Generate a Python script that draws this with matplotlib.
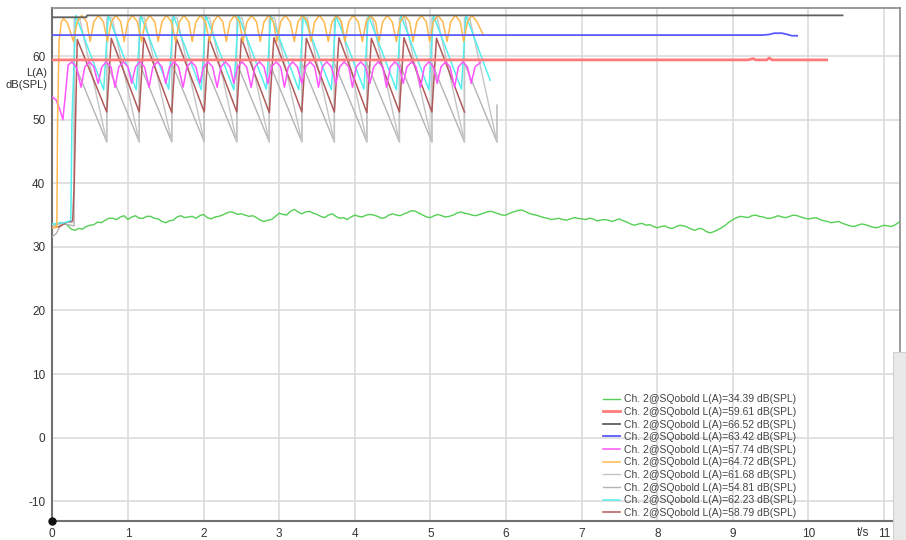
import numpy as np
import matplotlib
matplotlib.use("Agg")
import matplotlib.pyplot as plt
from matplotlib.patches import Rectangle

plt.rcParams['font.family'] = ['Liberation Sans', 'DejaVu Sans']
plt.rcParams['axes.unicode_minus'] = False

# ---------------- data (time in s, level in dB(SPL)) ----------------
labels = ["Ch. 2@SQobold L(A)=34.39 dB(SPL)",
          "Ch. 2@SQobold L(A)=59.61 dB(SPL)",
          "Ch. 2@SQobold L(A)=66.52 dB(SPL)",
          "Ch. 2@SQobold L(A)=63.42 dB(SPL)",
          "Ch. 2@SQobold L(A)=57.74 dB(SPL)",
          "Ch. 2@SQobold L(A)=64.72 dB(SPL)",
          "Ch. 2@SQobold L(A)=61.68 dB(SPL)",
          "Ch. 2@SQobold L(A)=54.81 dB(SPL)",
          "Ch. 2@SQobold L(A)=62.23 dB(SPL)",
          "Ch. 2@SQobold L(A)=58.79 dB(SPL)"]

colors = ['#55d055', '#ff7a7a', '#606060', '#5a5aff', '#ff55ff',
          '#ffb84d', '#c4c4c4', '#b4b4b4', '#55eeee', '#b05a5a']

green_step = 0.05
green_level = [
    33.6, 33.4, 33.8, 33.7, 33.4, 32.8, 32.6, 32.9, 32.8, 33.2, 33.4, 33.5, 33.9, 33.8, 34.2, 34.5, 34.5, 34.3, 34.7, 34.9,
    34.3, 34.7, 34.9, 34.5, 34.5, 34.8, 34.8, 34.5, 34.4, 34.0, 33.8, 34.1, 34.2, 34.7, 34.9, 34.6, 34.7, 34.8, 34.5, 34.9,
    35.1, 34.6, 34.4, 34.7, 34.8, 35.0, 35.3, 35.5, 35.4, 35.1, 35.2, 35.0, 34.8, 34.9, 34.6, 34.2, 34.0, 34.2, 34.3, 34.8,
    35.3, 35.1, 35.0, 35.6, 35.9, 35.5, 35.2, 35.5, 35.6, 35.3, 35.1, 34.8, 34.6, 35.0, 35.2, 34.8, 34.5, 34.6, 34.3, 34.7,
    35.0, 34.8, 34.7, 35.0, 35.1, 35.0, 34.8, 34.5, 34.6, 35.0, 35.2, 35.0, 34.9, 35.2, 35.4, 35.7, 35.6, 35.3, 35.0, 34.7,
    34.6, 34.9, 35.1, 34.9, 34.7, 34.8, 35.0, 35.3, 35.5, 35.3, 35.2, 35.0, 34.9, 35.1, 35.3, 35.5, 35.6, 35.4, 35.2, 35.0,
    35.0, 35.3, 35.5, 35.7, 35.8, 35.6, 35.3, 35.1, 35.0, 34.8, 34.6, 34.5, 34.3, 34.4, 34.5, 34.3, 34.2, 34.4, 34.6, 34.5,
    34.4, 34.3, 34.5, 34.4, 34.1, 34.2, 34.3, 34.2, 34.0, 34.2, 34.4, 34.1, 33.9, 33.6, 33.4, 33.6, 33.7, 33.4, 33.5, 33.2,
    33.0, 33.2, 33.3, 33.0, 32.9, 33.2, 33.4, 33.3, 33.1, 32.8, 32.6, 32.9, 32.8, 32.4, 32.2, 32.4, 32.7, 33.0, 33.4, 33.9,
    34.3, 34.6, 34.8, 34.7, 34.6, 34.9, 35.0, 34.8, 34.7, 34.5, 34.5, 34.7, 34.9, 34.7, 34.6, 34.8, 35.0, 34.9, 34.7, 34.5,
    34.4, 34.5, 34.6, 34.3, 34.1, 34.0, 33.8, 33.9, 34.0, 33.7, 33.5, 33.3, 33.2, 33.4, 33.6, 33.5, 33.3, 33.1, 33.0, 33.2,
    33.4, 33.3, 33.2, 33.5, 33.9]

red_pts = [(0.00, 59.4), (9.20, 59.4), (9.27, 59.6), (9.30, 59.4), (9.45, 59.4),
           (9.48, 59.7), (9.52, 59.4), (10.24, 59.4)]

dark_pts = [(0.00, 66.1), (0.45, 66.1), (0.46, 66.4), (10.45, 66.4)]

blue_pts = [(0.00, 63.3), (9.39, 63.3), (9.48, 63.4), (9.55, 63.6), (9.65, 63.6),
            (9.72, 63.4), (9.78, 63.2), (9.85, 63.2)]

magenta_pts = [
    (0.00, 53.6), (0.05, 53.1), (0.10, 51.6), (0.14, 50.0), (0.18, 54.8), (0.21, 58.6), (0.26, 59.1), (0.32, 58.2),
    (0.38, 55.1), (0.43, 58.3), (0.49, 59.1), (0.55, 58.3),
    (0.605, 55.7), (0.655, 58.3), (0.715, 59.1), (0.775, 58.3),
    (0.83, 55.1), (0.88, 58.3), (0.94, 59.1), (1.00, 58.3),
    (1.05, 55.7), (1.10, 58.3), (1.16, 59.1), (1.22, 58.3),
    (1.28, 55.1), (1.33, 58.3), (1.39, 59.1), (1.45, 58.3),
    (1.50, 55.7), (1.55, 58.3), (1.61, 59.1), (1.67, 58.3),
    (1.73, 55.1), (1.78, 58.3), (1.84, 59.1), (1.90, 58.3),
    (1.95, 55.7), (2.00, 58.3), (2.06, 59.1), (2.12, 58.3),
    (2.18, 55.1), (2.23, 58.3), (2.29, 59.1), (2.35, 58.3),
    (2.40, 55.7), (2.45, 58.3), (2.51, 59.1), (2.57, 58.3),
    (2.63, 55.1), (2.68, 58.3), (2.74, 59.1), (2.80, 58.3),
    (2.85, 55.7), (2.90, 58.3), (2.96, 59.1), (3.02, 58.3),
    (3.07, 55.1), (3.12, 58.3), (3.18, 59.1), (3.24, 58.3),
    (3.30, 55.7), (3.35, 58.3), (3.41, 59.1), (3.47, 58.3),
    (3.52, 55.1), (3.57, 58.3), (3.63, 59.1), (3.69, 58.3),
    (3.75, 55.7), (3.80, 58.3), (3.86, 59.1), (3.92, 58.3),
    (3.97, 55.1), (4.02, 58.3), (4.08, 59.1), (4.14, 58.3),
    (4.20, 55.7), (4.25, 58.3), (4.31, 59.1), (4.37, 58.3),
    (4.42, 55.1), (4.47, 58.3), (4.53, 59.1), (4.59, 58.3),
    (4.64, 55.7), (4.69, 58.3), (4.75, 59.1), (4.81, 58.3),
    (4.87, 55.1), (4.92, 58.3), (4.98, 59.1), (5.04, 58.3),
    (5.09, 55.7), (5.14, 58.3), (5.20, 59.1), (5.26, 58.3),
    (5.32, 55.1), (5.37, 58.3), (5.43, 59.1), (5.49, 58.3),
    (5.54, 55.7), (5.59, 58.3), (5.66, 59.0)]

orange_pts = [
    (0.00, 33.0), (0.06, 33.1), (0.07, 50.0), (0.09, 62.5), (0.12, 65.4), (0.15, 65.9), (0.20, 65.2),
    (0.28, 62.3), (0.33, 65.4), (0.39, 66.4), (0.455, 65.4),
    (0.50, 62.3), (0.55, 65.4), (0.61, 66.4), (0.675, 65.4),
    (0.73, 62.3), (0.78, 65.4), (0.84, 66.4), (0.905, 65.4),
    (0.95, 62.3), (1.00, 65.4), (1.06, 66.4), (1.125, 65.4),
    (1.18, 62.3), (1.23, 65.4), (1.29, 66.4), (1.355, 65.4),
    (1.40, 62.3), (1.45, 65.4), (1.51, 66.4), (1.575, 65.4),
    (1.63, 62.3), (1.68, 65.4), (1.74, 66.4), (1.805, 65.4),
    (1.85, 62.3), (1.90, 65.4), (1.96, 66.4), (2.025, 65.4),
    (2.08, 62.3), (2.13, 65.4), (2.19, 66.4), (2.255, 65.4),
    (2.30, 62.3), (2.35, 65.4), (2.41, 66.4), (2.475, 65.4),
    (2.52, 62.3), (2.575, 65.4), (2.635, 66.4), (2.70, 65.4),
    (2.75, 62.3), (2.80, 65.4), (2.86, 66.4), (2.925, 65.4),
    (2.97, 62.3), (3.02, 65.4), (3.08, 66.4), (3.145, 65.4),
    (3.20, 62.3), (3.25, 65.4), (3.31, 66.4), (3.375, 65.4),
    (3.42, 62.3), (3.47, 65.4), (3.53, 66.4), (3.595, 65.4),
    (3.65, 62.3), (3.70, 65.4), (3.76, 66.4), (3.825, 65.4),
    (3.87, 62.3), (3.92, 65.4), (3.98, 66.4), (4.045, 65.4),
    (4.10, 62.3), (4.15, 65.4), (4.21, 66.4), (4.275, 65.4),
    (4.32, 62.3), (4.37, 65.4), (4.43, 66.4), (4.495, 65.4),
    (4.55, 62.3), (4.60, 65.4), (4.66, 66.4), (4.725, 65.4),
    (4.77, 62.3), (4.82, 65.4), (4.88, 66.4), (4.945, 65.4),
    (4.99, 62.3), (5.04, 65.4), (5.10, 66.4), (5.165, 65.4),
    (5.22, 62.3), (5.27, 65.4), (5.33, 66.4), (5.395, 65.4),
    (5.44, 62.3), (5.49, 65.4), (5.55, 66.4), (5.615, 65.4),
    (5.70, 63.3)]

gray_hi_pts = [
    (0.00, 33.4), (0.10, 33.6), (0.20, 33.9), (0.29, 33.8), (0.29, 66.0), (0.36, 66.0),
    (0.72, 46.5), (0.72, 66.0), (0.79, 66.0),
    (1.15, 46.5), (1.15, 66.0), (1.22, 66.0),
    (1.58, 46.5), (1.58, 66.0), (1.65, 66.0),
    (2.01, 46.5), (2.01, 66.0), (2.08, 66.0),
    (2.44, 46.5), (2.44, 66.0), (2.51, 66.0),
    (2.87, 46.5), (2.87, 66.0), (2.94, 66.0),
    (3.30, 46.5), (3.30, 66.0), (3.37, 66.0),
    (3.73, 46.5), (3.73, 66.0), (3.80, 66.0),
    (4.16, 46.5), (4.16, 66.0), (4.23, 66.0),
    (4.59, 46.5), (4.59, 66.0), (4.66, 66.0),
    (5.02, 46.5), (5.02, 66.0), (5.09, 66.0),
    (5.45, 46.5), (5.45, 66.0), (5.52, 66.0),
    (5.88, 46.5)]

gray_lo_pts = [
    (0.00, 31.6), (0.06, 32.2), (0.12, 33.8), (0.20, 33.5), (0.29, 33.3), (0.29, 58.9),
    (0.72, 46.5), (0.72, 58.9), (1.15, 46.5), (1.15, 58.9), (1.58, 46.5), (1.58, 58.9),
    (2.01, 46.5), (2.01, 58.9), (2.44, 46.5), (2.44, 58.9), (2.87, 46.5), (2.87, 58.9),
    (3.30, 46.5), (3.30, 58.9), (3.73, 46.5), (3.73, 58.9), (4.16, 46.5), (4.16, 58.9),
    (4.59, 46.5), (4.59, 58.9), (5.02, 46.5), (5.02, 58.9), (5.45, 46.5), (5.45, 58.9),
    (5.88, 46.5), (5.88, 52.3)]

cyan_pts = [
    (0.00, 33.6), (0.10, 33.7), (0.20, 33.9), (0.245, 34.2), (0.26, 50.0), (0.31, 66.4),
    (0.68, 54.7), (0.74, 66.4), (1.11, 54.7), (1.17, 66.4), (1.54, 54.8), (1.60, 66.4),
    (1.97, 54.7), (2.03, 66.4), (2.40, 54.7), (2.46, 66.4), (2.83, 54.8), (2.89, 66.4),
    (3.26, 54.7), (3.32, 66.4), (3.69, 54.7), (3.75, 66.4), (4.12, 54.8), (4.18, 66.4),
    (4.55, 54.7), (4.61, 66.4), (4.98, 54.7), (5.04, 66.4), (5.41, 54.8), (5.47, 66.4),
    (5.79, 56.2)]

brown_pts = [
    (0.00, 33.0), (0.10, 33.2), (0.18, 33.8), (0.27, 34.1), (0.29, 40.0), (0.33, 62.6),
    (0.72, 51.2), (0.78, 62.8), (1.15, 51.2), (1.21, 62.9), (1.58, 51.1), (1.64, 62.8),
    (2.01, 51.2), (2.07, 62.9), (2.44, 51.2), (2.50, 62.8), (2.87, 51.1), (2.93, 62.9),
    (3.30, 51.2), (3.36, 62.8), (3.73, 51.2), (3.79, 62.9), (4.16, 51.1), (4.22, 62.8),
    (4.59, 51.2), (4.65, 62.9), (5.02, 51.2), (5.08, 62.8), (5.45, 51.2)]

x_ticks = list(range(0, 12))
y_ticks = [-10, 0, 10, 20, 30, 40, 50, 60]

# ---------------- figure ----------------
W, H = 906, 540
fig = plt.figure(figsize=(W / 100, H / 100), dpi=100)
x0_px, x1_px, y_top_px, y_bot_px = 52.3, 900, 8, 521
ax = fig.add_axes([x0_px / W, (H - y_bot_px) / H, (x1_px - x0_px) / W, (y_bot_px - y_top_px) / H])
ax.set_xlim(0, 11.21)
ax.set_ylim(-13.1, 67.56)

ax.set_xticks(x_ticks)
ax.set_yticks(y_ticks)
ax.grid(True, color='#dcdcdc', lw=1.2)
ax.set_axisbelow(True)
ax.tick_params(length=0, labelsize=8.5, labelcolor='#333333', pad=5)
for s in ['left', 'bottom']:
    ax.spines[s].set_color('#707070')
    ax.spines[s].set_linewidth(1.5)
for s in ['top', 'right']:
    ax.spines[s].set_color('#8a8a8a')
    ax.spines[s].set_linewidth(1.2)


def xy(pts):
    a = np.array(pts)
    return a[:, 0], a[:, 1]


handles = {}
green_t = np.arange(len(green_level)) * green_step
handles[0], = ax.plot(green_t, green_level, color=colors[0], lw=1.0, zorder=3)

series = [(gray_lo_pts, 7, 1.0), (gray_hi_pts, 6, 1.0), (brown_pts, 9, 1.1),
          (cyan_pts, 8, 1.1), (magenta_pts, 4, 1.1), (orange_pts, 5, 1.1)]
for pts, idx, lw in series:
    t, v = xy(pts)
    handles[idx], = ax.plot(t, v, color=colors[idx], lw=lw, zorder=3)

t, v = xy(red_pts)
handles[1], = ax.plot(t, v, color=colors[1], lw=2.0, zorder=4)
t, v = xy(blue_pts)
handles[3], = ax.plot(t, v, color=colors[3], lw=1.3, zorder=4)
t, v = xy(dark_pts)
handles[2], = ax.plot(t, v, color=colors[2], lw=1.3, zorder=4)

hl = [handles[i] for i in range(10)]
leg = ax.legend(hl, labels, loc='upper left', bbox_to_anchor=(0.647, 0.251),
                frameon=False, fontsize=7.5, handlelength=1.6, handletextpad=0.4,
                labelspacing=0.25, borderpad=0.2, borderaxespad=0)
for txt in leg.get_texts():
    txt.set_color('#444444')

# axis annotations
ax.text(10.72, -14.0, 't/s', ha='center', va='top', fontsize=8.5, color='#333333')
fig.text(47 / W, 1 - 79 / H, 'L(A)\ndB(SPL)', ha='right', va='center',
         fontsize=8, color='#333333', multialignment='right', linespacing=1.3)
ax.plot([0], [-13.1], 'o', color='#111111', ms=5, clip_on=False, zorder=6)

# side panel of the application window
fig.patches.append(Rectangle((893 / W, 0), 13 / W, (540 - 352) / H, transform=fig.transFigure,
                             facecolor='#e9e9e9', edgecolor='#d0d0d0', lw=0.8, zorder=10))

fig.savefig('out.png', dpi=100)
